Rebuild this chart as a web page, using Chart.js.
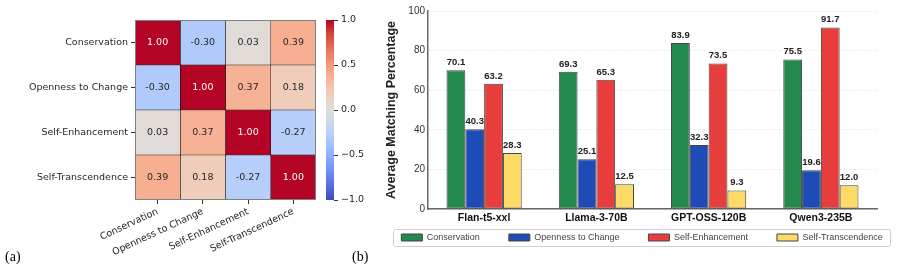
<!DOCTYPE html>
<html>
<head>
<meta charset="utf-8">
<script src="https://cdn.jsdelivr.net/npm/chart.js@4.4.1/dist/chart.umd.min.js"></script>
<style>
  html, body { margin: 0; padding: 0; background: #fff; }
  #wrap { position: relative; width: 922px; height: 273px; overflow: hidden; }
  canvas { position: absolute; top: 0; }
  .panel { position: absolute; font-family: "Liberation Serif", "Times New Roman", serif; font-size: 14px; color: #000; }
</style>
</head>
<body>
<div id="wrap">
  <canvas id="heat" style="left:0" width="318" height="273"></canvas>
  <canvas id="cbar" style="left:318px" width="58" height="273"></canvas>
  <canvas id="bars" style="left:380px" width="542" height="273"></canvas>
  <div class="panel" style="left:5px;top:249px">(a)</div>
  <div class="panel" style="left:352px;top:249px">(b)</div>
</div>
<script>
// (a) correlation between value dimensions
const dims = ["Conservation", "Openness to Change", "Self-Enhancement", "Self-Transcendence"];
const corrConservation = [1.00, -0.30, 0.03, 0.39];
const corrOpenness = [-0.30, 1.00, 0.37, 0.18];
const corrSelfEnh = [0.03, 0.37, 1.00, -0.27];
const corrSelfTrans = [0.39, 0.18, -0.27, 1.00];
const corr = [corrConservation, corrOpenness, corrSelfEnh, corrSelfTrans];
const cbarTicks = [-1, -0.5, 0, 0.5, 1];

// (b) matching percentage per model
const models = ["Flan-t5-xxl", "Llama-3-70B", "GPT-OSS-120B", "Qwen3-235B"];
const conservation = [70.1, 69.3, 83.9, 75.5];
const openness = [40.3, 25.1, 32.3, 19.6];
const selfEnhancement = [63.2, 65.3, 73.5, 91.7];
const selfTranscendence = [28.3, 12.5, 9.3, 12.0];
const yTicks = [0, 20, 40, 60, 80, 100];

// coolwarm colormap (sampled)
const coolwarm = [
  [59,76,192],[77,104,215],[98,130,234],[119,154,247],[141,176,254],[163,194,255],
  [184,208,249],[204,217,238],[221,221,221],[236,211,197],[245,196,173],[247,177,148],
  [244,154,123],[236,127,99],[222,96,77],[203,62,56],[180,4,38]
];
function cmap(v) {
  const t = Math.max(0, Math.min(1, (v + 1) / 2)) * (coolwarm.length - 1);
  const i = Math.min(Math.floor(t), coolwarm.length - 2);
  const f = t - i;
  const a = coolwarm[i], b = coolwarm[i + 1];
  const c = a.map((x, k) => Math.round(x + (b[k] - x) * f));
  return `rgb(${c[0]},${c[1]},${c[2]})`;
}

const dejavu = "'DejaVu Sans', sans-serif";
const arial = "'Liberation Sans', Arial, sans-serif";

// HEATMAP
const cellText = {
  id: "cellText",
  afterDatasetsDraw(chart) {
    const ctx = chart.ctx;
    ctx.save();
    ctx.font = "9.5px " + dejavu;
    ctx.textAlign = "center";
    ctx.textBaseline = "middle";
    chart.data.datasets.forEach((ds, j) => {
      chart.getDatasetMeta(j).data.forEach((el, i) => {
        const v = corr[i][j];
        const p = el.getCenterPoint();
        ctx.fillStyle = Math.abs(v) > 0.6 ? "#fff" : "#262626";
        ctx.fillText(v.toFixed(2), p.x, p.y + 0.5);
      });
    });
    const a = chart.chartArea;
    ctx.strokeStyle = "#808080";
    ctx.lineWidth = 1;
    ctx.strokeRect(a.left + 0.5, a.top + 0.5, a.right - a.left - 1, a.bottom - a.top - 1);
    ctx.restore();
  }
};

new Chart(document.getElementById("heat"), {
  type: "bar",
  data: {
    labels: dims,
    datasets: dims.map((d, j) => ({
      label: d,
      data: dims.map(() => 1),
      backgroundColor: corr.map(row => cmap(row[j])),
      borderColor: "#000",
      borderWidth: 0.5,
      borderSkipped: false,
      barPercentage: 1,
      categoryPercentage: 1
    }))
  },
  options: {
    indexAxis: "y",
    responsive: false,
    devicePixelRatio: 1,
    animation: false,
    layout: { padding: { top: 20, right: 2, left: 0, bottom: 0 } },
    plugins: { legend: { display: false }, tooltip: { enabled: false } },
    scales: {
      x: {
        type: "linear", stacked: true, min: 0, max: 4,
        afterBuildTicks: s => { s.ticks = dims.map((d, i) => ({ value: i + 0.5 })); },
        afterFit: s => { s.height = 73; },
        ticks: {
          autoSkip: false, minRotation: 25, maxRotation: 25, padding: 2,
          color: "#262626", font: { family: dejavu, size: 9.5 },
          callback: (v, i) => dims[i]
        },
        grid: { drawOnChartArea: false, tickLength: 4, color: "#333" },
        border: { display: false }
      },
      y: {
        stacked: true,
        afterFit: s => { s.width = 135; },
        ticks: { color: "#262626", font: { family: dejavu, size: 9.5 }, padding: 3 },
        grid: { drawOnChartArea: false, offset: false, tickLength: 4, color: "#333" },
        border: { display: false }
      }
    }
  },
  plugins: [cellText]
});

// COLORBAR
new Chart(document.getElementById("cbar"), {
  type: "bar",
  data: {
    labels: [""],
    datasets: [{
      data: [[cbarTicks[0], cbarTicks[cbarTicks.length - 1]]],
      barPercentage: 1, categoryPercentage: 1, borderWidth: 0,
      backgroundColor: ctx => {
        const a = ctx.chart.chartArea;
        if (!a) return "#ddd";
        const g = ctx.chart.ctx.createLinearGradient(0, a.bottom, 0, a.top);
        coolwarm.forEach((c, k) => g.addColorStop(k / (coolwarm.length - 1), `rgb(${c[0]},${c[1]},${c[2]})`));
        return g;
      }
    }]
  },
  options: {
    responsive: false,
    devicePixelRatio: 1,
    animation: false,
    layout: { padding: { top: 20, bottom: 73, left: 8, right: 0 } },
    plugins: { legend: { display: false }, tooltip: { enabled: false } },
    scales: {
      x: { display: false },
      y: {
        position: "right", min: -1, max: 1,
        afterBuildTicks: s => { s.ticks = cbarTicks.map(v => ({ value: v })); },
        afterFit: s => { s.width = 42; },
        ticks: {
          padding: 3, color: "#262626", font: { family: dejavu, size: 9.5 },
          callback: v => (v < 0 ? "\u2212" : "") + Math.abs(v).toFixed(1)
        },
        grid: { drawOnChartArea: false, tickLength: 4, color: "#333" },
        border: { display: false }
      }
    }
  }
});

// GROUPED BARS
const barLabels = {
  id: "barLabels",
  afterDatasetsDraw(chart) {
    const ctx = chart.ctx;
    ctx.save();
    ctx.font = "bold 9.5px " + arial;
    ctx.fillStyle = "#222";
    ctx.textAlign = "center";
    ctx.textBaseline = "bottom";
    chart.data.datasets.forEach((ds, j) => {
      chart.getDatasetMeta(j).data.forEach((el, i) => {
        ctx.fillText(ds.data[i].toFixed(1), el.x, el.y - 3);
      });
    });
    ctx.restore();
  }
};

// legend sits closer to the axis than Chart.js puts it, with a light frame
const legendFrame = {
  id: "legendFrame",
  afterLayout(chart) {
    const lg = chart.legend;
    const pad = lg.options.labels.padding;
    lg.top = chart.chartArea.bottom + 24 - pad;
    lg.bottom = lg.top + pad + 20;
    lg.height = lg.bottom - lg.top;
    lg.left -= 9;
    lg.right -= 9;
  },
  afterDraw(chart) {
    const boxes = chart.legend.legendHitBoxes;
    if (!boxes || !boxes.length) return;
    const last = boxes[boxes.length - 1];
    const l = boxes[0].left - 8;
    const r = last.left + last.width + 8;
    const t = boxes[0].top + boxes[0].height / 2 - 8.5;
    const ctx = chart.ctx;
    ctx.save();
    ctx.strokeStyle = "#d0d0d0";
    ctx.lineWidth = 1;
    ctx.beginPath();
    ctx.roundRect(Math.round(l) + 0.5, Math.round(t) + 0.5, Math.round(r - l), 17, 2);
    ctx.stroke();
    ctx.restore();
  }
};

const series = [
  { label: "Conservation", data: conservation, color: "#23894d" },
  { label: "Openness to Change", data: openness, color: "#1f4bb7" },
  { label: "Self-Enhancement", data: selfEnhancement, color: "#e83d3d" },
  { label: "Self-Transcendence", data: selfTranscendence, color: "#fdda66" }
];

new Chart(document.getElementById("bars"), {
  type: "bar",
  data: {
    labels: models,
    datasets: series.map(s => ({
      label: s.label,
      data: s.data,
      backgroundColor: s.color,
      borderColor: "#444",
      borderWidth: 1,
      borderSkipped: false,
      barPercentage: 1,
      categoryPercentage: 0.67
    }))
  },
  options: {
    responsive: false,
    devicePixelRatio: 1,
    animation: false,
    layout: { padding: { top: 11, right: 0, left: 0, bottom: 0 } },
    plugins: {
      tooltip: { enabled: false },
      legend: {
        position: "bottom",
        maxHeight: 30,
        labels: {
          boxWidth: 21, boxHeight: 7, padding: 29,
          color: "#444", font: { family: arial, size: 9 }
        }
      }
    },
    scales: {
      x: {
        afterFit: s => { s.height = 34; },
        ticks: { color: "#111", padding: 3, font: { family: arial, size: 10.5, weight: "bold" } },
        grid: { display: false, drawTicks: false },
        border: { color: "#666", width: 1.5 }
      },
      y: {
        min: 0, max: 100,
        afterBuildTicks: s => { s.ticks = yTicks.map(v => ({ value: v })); },
        afterFit: s => { s.width = 48; },
        title: {
          display: true, text: "Average Matching Percentage",
          color: "#222", font: { family: arial, size: 12.5, weight: "bold" },
          padding: { top: 4, bottom: 4 }
        },
        ticks: { color: "#333", padding: 3, font: { family: arial, size: 10 } },
        grid: { drawTicks: false, color: "rgba(0,0,0,0.09)", lineWidth: 0.8 },
        border: { color: "#666", width: 1.5, dash: [3, 2] }
      },
      // empty right-hand gutter, keeps the legend free to use the full width
      yRight: {
        type: "linear", position: "right", display: true,
        afterFit: s => { s.width = 45; },
        ticks: { display: false },
        grid: { display: false },
        border: { display: false }
      }
    }
  },
  plugins: [barLabels, legendFrame]
});
</script>
</body>
</html>
